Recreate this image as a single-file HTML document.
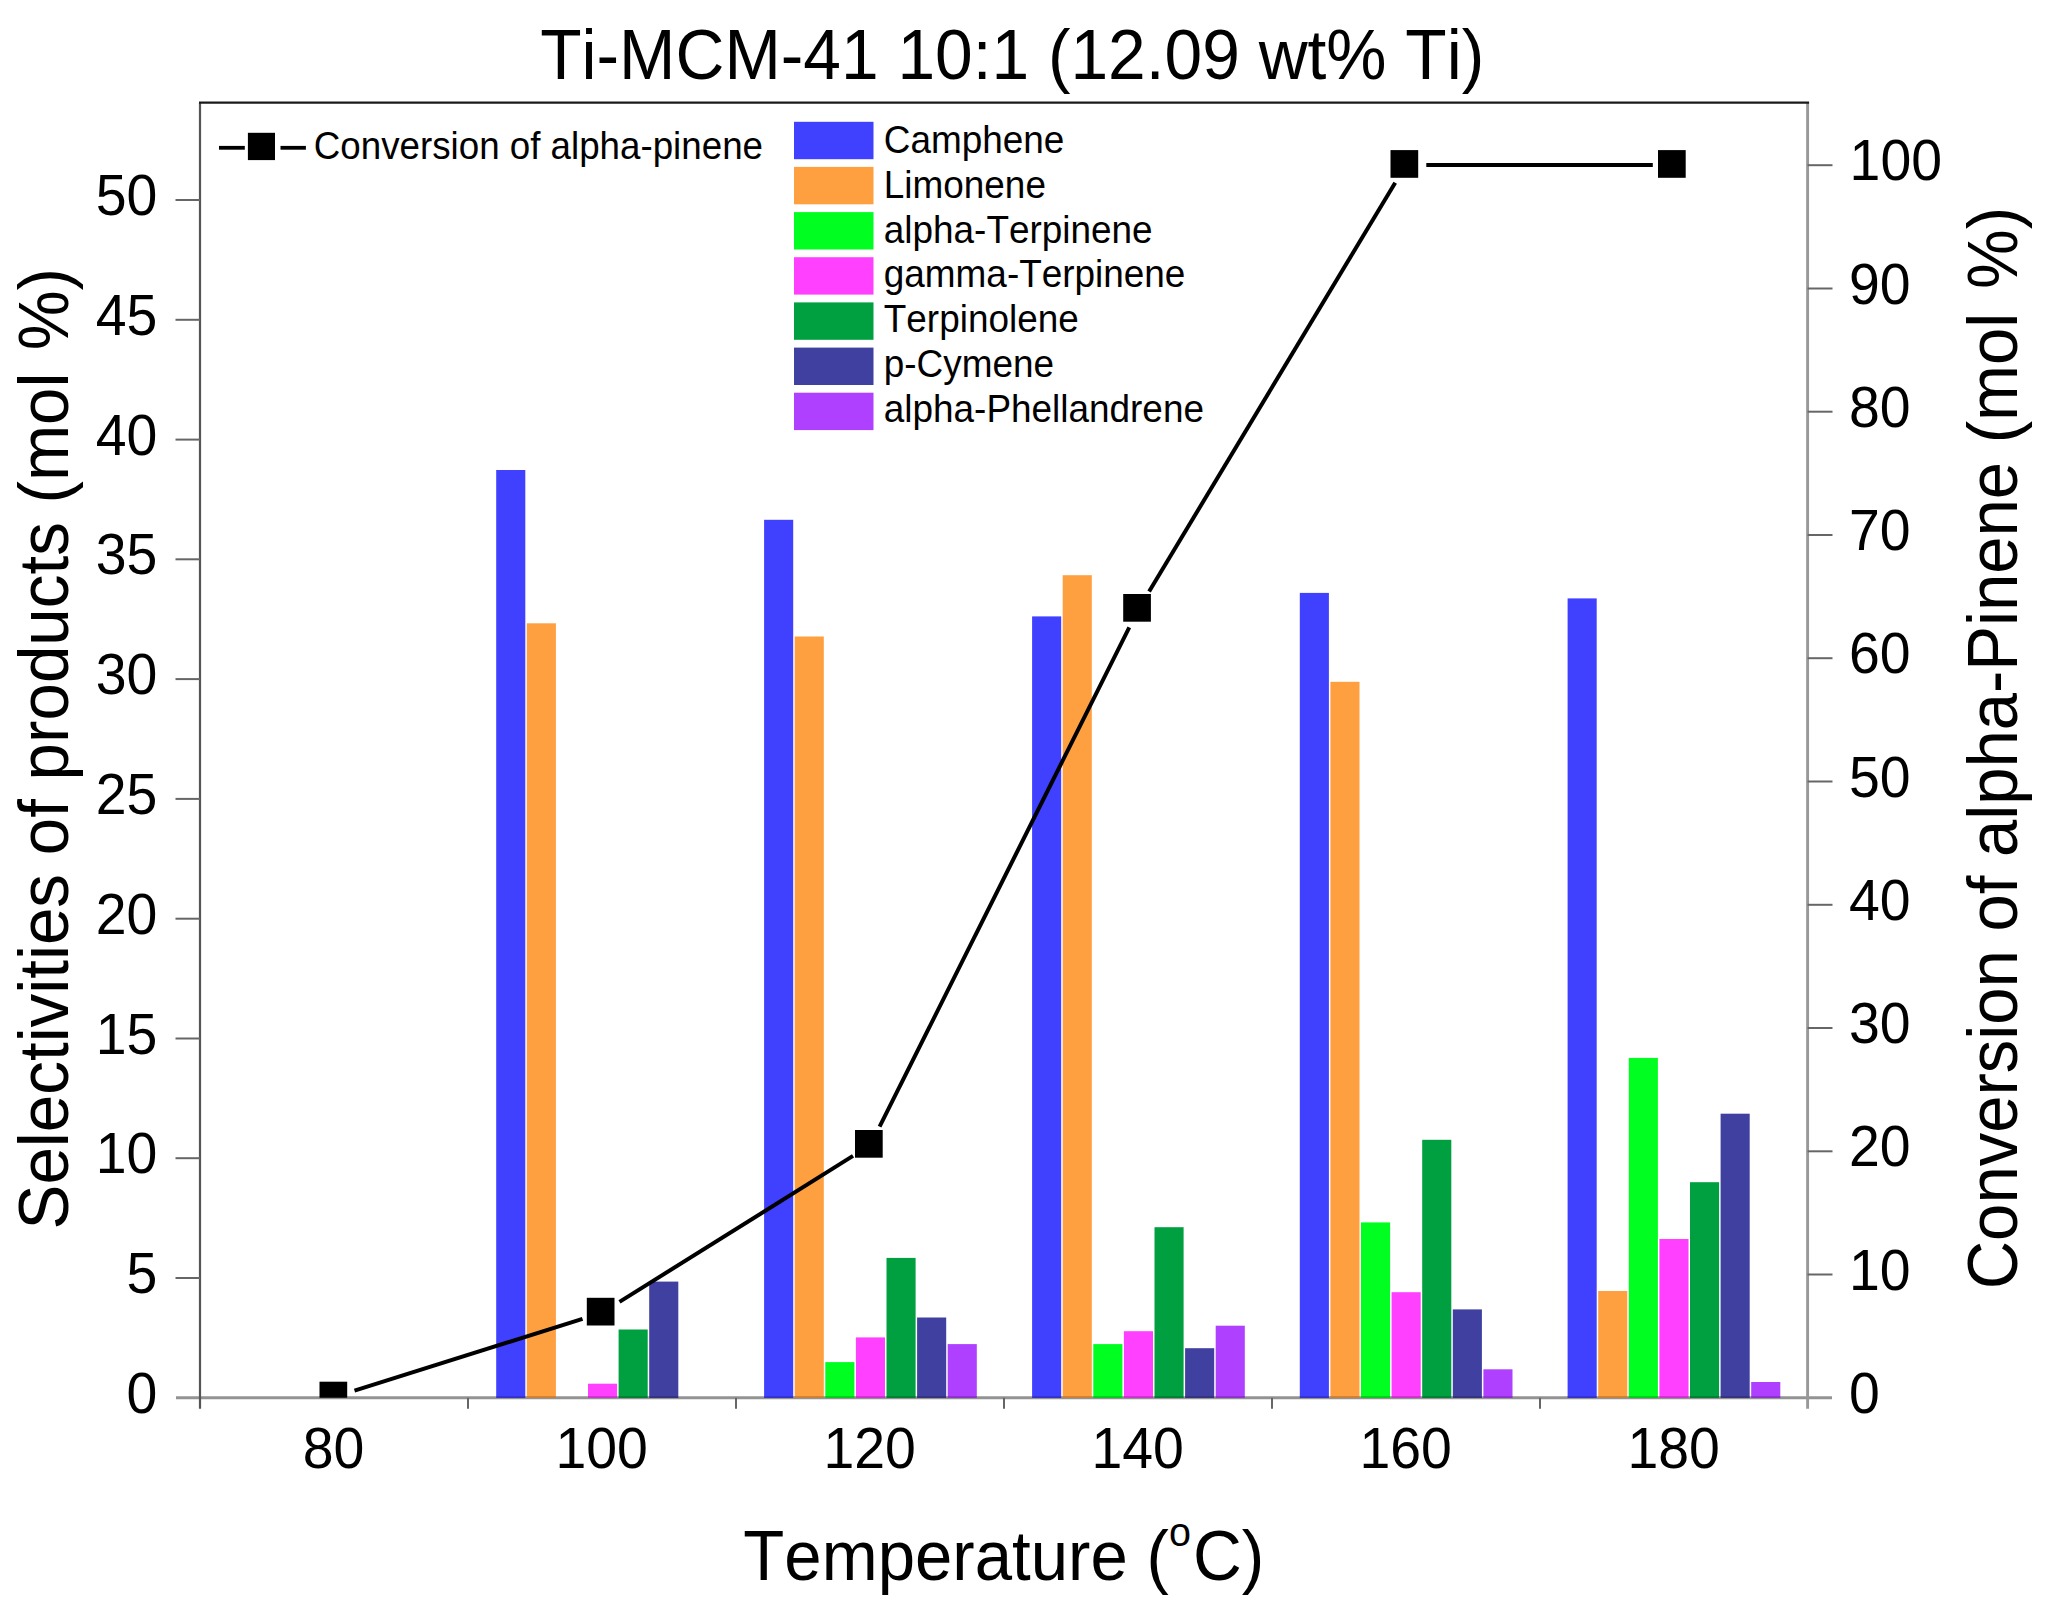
<!DOCTYPE html>
<html lang="en"><head><meta charset="utf-8"><title>Ti-MCM-41 10:1 (12.09 wt% Ti)</title>
<style>html,body{margin:0;padding:0;background:#fff}svg{display:block}text{font-family:"Liberation Sans",Arial,sans-serif;fill:#000;font-kerning:none;font-variant-ligatures:none}</style></head><body>
<svg width="2047" height="1611" viewBox="0 0 2047 1611">
<rect width="2047" height="1611" fill="#fff"/>
<line x1="176" y1="1397.8" x2="1832" y2="1397.8" stroke="#939393" stroke-width="3.1"/>
<line x1="1807.6" y1="102.7" x2="1807.6" y2="1408.8" stroke="#989898" stroke-width="2.9"/>
<line x1="200.0" y1="102.7" x2="200.0" y2="1408.8" stroke="#555" stroke-width="2.2"/>
<line x1="199.0" y1="102.7" x2="1809.1" y2="102.7" stroke="#1a1a1a" stroke-width="2.2"/>
<g stroke="#666" stroke-width="2">
<line x1="175.5" y1="1278.0" x2="200.0" y2="1278.0"/>
<line x1="175.5" y1="1158.2" x2="200.0" y2="1158.2"/>
<line x1="175.5" y1="1038.5" x2="200.0" y2="1038.5"/>
<line x1="175.5" y1="918.7" x2="200.0" y2="918.7"/>
<line x1="175.5" y1="798.9" x2="200.0" y2="798.9"/>
<line x1="175.5" y1="679.1" x2="200.0" y2="679.1"/>
<line x1="175.5" y1="559.3" x2="200.0" y2="559.3"/>
<line x1="175.5" y1="439.6" x2="200.0" y2="439.6"/>
<line x1="175.5" y1="319.8" x2="200.0" y2="319.8"/>
<line x1="175.5" y1="200.0" x2="200.0" y2="200.0"/>
<line x1="1807.6" y1="1274.5" x2="1832.5" y2="1274.5"/>
<line x1="1807.6" y1="1151.3" x2="1832.5" y2="1151.3"/>
<line x1="1807.6" y1="1028.0" x2="1832.5" y2="1028.0"/>
<line x1="1807.6" y1="904.8" x2="1832.5" y2="904.8"/>
<line x1="1807.6" y1="781.5" x2="1832.5" y2="781.5"/>
<line x1="1807.6" y1="658.2" x2="1832.5" y2="658.2"/>
<line x1="1807.6" y1="535.0" x2="1832.5" y2="535.0"/>
<line x1="1807.6" y1="411.7" x2="1832.5" y2="411.7"/>
<line x1="1807.6" y1="288.5" x2="1832.5" y2="288.5"/>
<line x1="1807.6" y1="165.2" x2="1832.5" y2="165.2"/>
<line x1="468.0" y1="1397.8" x2="468.0" y2="1408.8"/>
<line x1="736.0" y1="1397.8" x2="736.0" y2="1408.8"/>
<line x1="1004.0" y1="1397.8" x2="1004.0" y2="1408.8"/>
<line x1="1272.0" y1="1397.8" x2="1272.0" y2="1408.8"/>
<line x1="1540.0" y1="1397.8" x2="1540.0" y2="1408.8"/>
</g>
<rect x="496.2" y="470.0" width="29.1" height="928.0" fill="#4040FF"/>
<rect x="496.2" y="1396.1" width="29.1" height="1.9" fill="#000" fill-opacity="0.2"/>
<rect x="526.8" y="623.3" width="29.1" height="774.7" fill="#FFA040"/>
<rect x="526.8" y="1396.1" width="29.1" height="1.9" fill="#000" fill-opacity="0.2"/>
<rect x="588.0" y="1383.7" width="29.1" height="14.3" fill="#FF40FF"/>
<rect x="588.0" y="1396.1" width="29.1" height="1.9" fill="#000" fill-opacity="0.2"/>
<rect x="618.6" y="1329.5" width="29.1" height="68.5" fill="#00A040"/>
<rect x="618.6" y="1396.1" width="29.1" height="1.9" fill="#000" fill-opacity="0.2"/>
<rect x="649.2" y="1281.6" width="29.1" height="116.4" fill="#4040A0"/>
<rect x="649.2" y="1396.1" width="29.1" height="1.9" fill="#000" fill-opacity="0.2"/>
<rect x="764.1" y="519.8" width="29.1" height="878.2" fill="#4040FF"/>
<rect x="764.1" y="1396.1" width="29.1" height="1.9" fill="#000" fill-opacity="0.2"/>
<rect x="794.7" y="636.5" width="29.1" height="761.5" fill="#FFA040"/>
<rect x="794.7" y="1396.1" width="29.1" height="1.9" fill="#000" fill-opacity="0.2"/>
<rect x="825.3" y="1362.1" width="29.1" height="35.9" fill="#00FF20"/>
<rect x="825.3" y="1396.1" width="29.1" height="1.9" fill="#000" fill-opacity="0.2"/>
<rect x="855.9" y="1337.4" width="29.1" height="60.6" fill="#FF40FF"/>
<rect x="855.9" y="1396.1" width="29.1" height="1.9" fill="#000" fill-opacity="0.2"/>
<rect x="886.5" y="1257.9" width="29.1" height="140.1" fill="#00A040"/>
<rect x="886.5" y="1396.1" width="29.1" height="1.9" fill="#000" fill-opacity="0.2"/>
<rect x="917.1" y="1317.5" width="29.1" height="80.5" fill="#4040A0"/>
<rect x="917.1" y="1396.1" width="29.1" height="1.9" fill="#000" fill-opacity="0.2"/>
<rect x="947.7" y="1344.1" width="29.1" height="53.9" fill="#B040FF"/>
<rect x="947.7" y="1396.1" width="29.1" height="1.9" fill="#000" fill-opacity="0.2"/>
<rect x="1032.1" y="616.4" width="29.1" height="781.6" fill="#4040FF"/>
<rect x="1032.1" y="1396.1" width="29.1" height="1.9" fill="#000" fill-opacity="0.2"/>
<rect x="1062.7" y="575.2" width="29.1" height="822.8" fill="#FFA040"/>
<rect x="1062.7" y="1396.1" width="29.1" height="1.9" fill="#000" fill-opacity="0.2"/>
<rect x="1093.3" y="1344.1" width="29.1" height="53.9" fill="#00FF20"/>
<rect x="1093.3" y="1396.1" width="29.1" height="1.9" fill="#000" fill-opacity="0.2"/>
<rect x="1123.9" y="1331.2" width="29.1" height="66.8" fill="#FF40FF"/>
<rect x="1123.9" y="1396.1" width="29.1" height="1.9" fill="#000" fill-opacity="0.2"/>
<rect x="1154.5" y="1227.2" width="29.1" height="170.8" fill="#00A040"/>
<rect x="1154.5" y="1396.1" width="29.1" height="1.9" fill="#000" fill-opacity="0.2"/>
<rect x="1185.1" y="1348.2" width="29.1" height="49.8" fill="#4040A0"/>
<rect x="1185.1" y="1396.1" width="29.1" height="1.9" fill="#000" fill-opacity="0.2"/>
<rect x="1215.7" y="1325.7" width="29.1" height="72.3" fill="#B040FF"/>
<rect x="1215.7" y="1396.1" width="29.1" height="1.9" fill="#000" fill-opacity="0.2"/>
<rect x="1299.8" y="592.9" width="29.1" height="805.1" fill="#4040FF"/>
<rect x="1299.8" y="1396.1" width="29.1" height="1.9" fill="#000" fill-opacity="0.2"/>
<rect x="1330.4" y="681.8" width="29.1" height="716.2" fill="#FFA040"/>
<rect x="1330.4" y="1396.1" width="29.1" height="1.9" fill="#000" fill-opacity="0.2"/>
<rect x="1361.0" y="1222.4" width="29.1" height="175.6" fill="#00FF20"/>
<rect x="1361.0" y="1396.1" width="29.1" height="1.9" fill="#000" fill-opacity="0.2"/>
<rect x="1391.6" y="1292.2" width="29.1" height="105.8" fill="#FF40FF"/>
<rect x="1391.6" y="1396.1" width="29.1" height="1.9" fill="#000" fill-opacity="0.2"/>
<rect x="1422.2" y="1139.8" width="29.1" height="258.2" fill="#00A040"/>
<rect x="1422.2" y="1396.1" width="29.1" height="1.9" fill="#000" fill-opacity="0.2"/>
<rect x="1452.8" y="1309.4" width="29.1" height="88.6" fill="#4040A0"/>
<rect x="1452.8" y="1396.1" width="29.1" height="1.9" fill="#000" fill-opacity="0.2"/>
<rect x="1483.4" y="1369.3" width="29.1" height="28.7" fill="#B040FF"/>
<rect x="1483.4" y="1396.1" width="29.1" height="1.9" fill="#000" fill-opacity="0.2"/>
<rect x="1567.6" y="598.4" width="29.1" height="799.6" fill="#4040FF"/>
<rect x="1567.6" y="1396.1" width="29.1" height="1.9" fill="#000" fill-opacity="0.2"/>
<rect x="1598.2" y="1291.0" width="29.1" height="107.0" fill="#FFA040"/>
<rect x="1598.2" y="1396.1" width="29.1" height="1.9" fill="#000" fill-opacity="0.2"/>
<rect x="1628.8" y="1057.9" width="29.1" height="340.1" fill="#00FF20"/>
<rect x="1628.8" y="1396.1" width="29.1" height="1.9" fill="#000" fill-opacity="0.2"/>
<rect x="1659.4" y="1239.0" width="29.1" height="159.0" fill="#FF40FF"/>
<rect x="1659.4" y="1396.1" width="29.1" height="1.9" fill="#000" fill-opacity="0.2"/>
<rect x="1690.0" y="1182.2" width="29.1" height="215.8" fill="#00A040"/>
<rect x="1690.0" y="1396.1" width="29.1" height="1.9" fill="#000" fill-opacity="0.2"/>
<rect x="1720.6" y="1113.7" width="29.1" height="284.3" fill="#4040A0"/>
<rect x="1720.6" y="1396.1" width="29.1" height="1.9" fill="#000" fill-opacity="0.2"/>
<rect x="1751.2" y="1382.0" width="29.1" height="16.0" fill="#B040FF"/>
<rect x="1751.2" y="1396.1" width="29.1" height="1.9" fill="#000" fill-opacity="0.2"/>
<g stroke="#000" stroke-width="4" stroke-linecap="butt">
<line x1="354.5" y1="1390.6" x2="582.5" y2="1318.9"/>
<line x1="619.5" y1="1301.9" x2="853.0" y2="1155.9"/>
<line x1="879.6" y1="1126.7" x2="1129.3" y2="627.4"/>
<line x1="1149.1" y1="591.5" x2="1395.2" y2="182.7"/>
<line x1="1426.3" y1="165.1" x2="1652.8" y2="165.1"/>
</g>
<clipPath id="cp"><rect x="200.0" y="102.7" width="1607.6" height="1295.1"/></clipPath>
<g clip-path="url(#cp)" fill="#000">
<rect x="319.5" y="1381.7" width="27.7" height="27.7"/>
<rect x="586.8" y="1297.8" width="27.7" height="27.7"/>
<rect x="855.0" y="1130.0" width="27.7" height="27.7"/>
<rect x="1123.2" y="594.0" width="27.7" height="27.7"/>
<rect x="1390.5" y="150.1" width="27.7" height="27.7"/>
<rect x="1658.0" y="150.1" width="27.7" height="27.7"/>
</g>
<text transform="translate(540.2,79.4) scale(0.9562,1)" font-size="70.8" text-anchor="start">Ti-MCM-41 10:1 (12.09 wt% Ti)</text>
<text transform="translate(157.4,1412.8) scale(0.9615,1)" font-size="57.6" text-anchor="end">0</text>
<text transform="translate(157.4,1293.0) scale(0.9615,1)" font-size="57.6" text-anchor="end">5</text>
<text transform="translate(157.4,1173.2) scale(0.9615,1)" font-size="57.6" text-anchor="end">10</text>
<text transform="translate(157.4,1053.5) scale(0.9615,1)" font-size="57.6" text-anchor="end">15</text>
<text transform="translate(157.4,933.7) scale(0.9615,1)" font-size="57.6" text-anchor="end">20</text>
<text transform="translate(157.4,813.9) scale(0.9615,1)" font-size="57.6" text-anchor="end">25</text>
<text transform="translate(157.4,694.1) scale(0.9615,1)" font-size="57.6" text-anchor="end">30</text>
<text transform="translate(157.4,574.3) scale(0.9615,1)" font-size="57.6" text-anchor="end">35</text>
<text transform="translate(157.4,454.6) scale(0.9615,1)" font-size="57.6" text-anchor="end">40</text>
<text transform="translate(157.4,334.8) scale(0.9615,1)" font-size="57.6" text-anchor="end">45</text>
<text transform="translate(157.4,215.0) scale(0.9615,1)" font-size="57.6" text-anchor="end">50</text>
<text transform="translate(1849.0,1412.8) scale(0.9615,1)" font-size="57.6" text-anchor="start">0</text>
<text transform="translate(1849.0,1289.5) scale(0.9615,1)" font-size="57.6" text-anchor="start">10</text>
<text transform="translate(1849.0,1166.3) scale(0.9615,1)" font-size="57.6" text-anchor="start">20</text>
<text transform="translate(1849.0,1043.0) scale(0.9615,1)" font-size="57.6" text-anchor="start">30</text>
<text transform="translate(1849.0,919.8) scale(0.9615,1)" font-size="57.6" text-anchor="start">40</text>
<text transform="translate(1849.0,796.5) scale(0.9615,1)" font-size="57.6" text-anchor="start">50</text>
<text transform="translate(1849.0,673.2) scale(0.9615,1)" font-size="57.6" text-anchor="start">60</text>
<text transform="translate(1849.0,550.0) scale(0.9615,1)" font-size="57.6" text-anchor="start">70</text>
<text transform="translate(1849.0,426.7) scale(0.9615,1)" font-size="57.6" text-anchor="start">80</text>
<text transform="translate(1849.0,303.5) scale(0.9615,1)" font-size="57.6" text-anchor="start">90</text>
<text transform="translate(1849.6,180.2) scale(0.9615,1)" font-size="57.6" text-anchor="start">100</text>
<text transform="translate(333.6,1467.5) scale(0.9615,1)" font-size="57.6" text-anchor="middle">80</text>
<text transform="translate(601.6,1467.5) scale(0.9615,1)" font-size="57.6" text-anchor="middle">100</text>
<text transform="translate(869.6,1467.5) scale(0.9615,1)" font-size="57.6" text-anchor="middle">120</text>
<text transform="translate(1137.6,1467.5) scale(0.9615,1)" font-size="57.6" text-anchor="middle">140</text>
<text transform="translate(1405.6,1467.5) scale(0.9615,1)" font-size="57.6" text-anchor="middle">160</text>
<text transform="translate(1673.6,1467.5) scale(0.9615,1)" font-size="57.6" text-anchor="middle">180</text>
<text transform="translate(68.0,1229.5) rotate(-90) scale(0.9580,1)" font-size="70.3" text-anchor="start">Selectivities of products (mol <tspan dx="3.7">%)</tspan></text>
<text transform="translate(2016.5,1289.3) rotate(-90) scale(0.9567,1)" font-size="70.1" text-anchor="start">Conversion of alpha-Pinene (mol <tspan dx="5.6">%)</tspan></text>
<text transform="translate(743.3,1579.6) scale(0.9556,1)" font-size="70.3" text-anchor="start">Temperature (</text>
<text transform="translate(1169.0,1546.0) scale(0.9615,1)" font-size="41.1" text-anchor="start">o</text>
<text transform="translate(1192.9,1579.6) scale(0.9615,1)" font-size="70.3" text-anchor="start">C)</text>
<g stroke="#000" stroke-width="3.8"><line x1="219" y1="147.8" x2="244.8" y2="147.8"/><line x1="280.5" y1="147.8" x2="305.9" y2="147.8"/></g>
<rect x="247.9" y="132.8" width="27.1" height="27.3" fill="#000"/>
<text transform="translate(313.8,158.5) scale(0.9615,1)" font-size="38.2" text-anchor="start">Conversion of alpha-pinene</text>
<rect x="794" y="121.8" width="79.5" height="37.4" fill="#4040FF"/>
<text transform="translate(883.8,152.7) scale(0.9615,1)" font-size="38.4" text-anchor="start">Camphene</text>
<rect x="794" y="166.9" width="79.5" height="37.4" fill="#FFA040"/>
<text transform="translate(883.8,197.6) scale(0.9615,1)" font-size="38.4" text-anchor="start">Limonene</text>
<rect x="794" y="212.1" width="79.5" height="37.4" fill="#00FF20"/>
<text transform="translate(883.8,242.5) scale(0.9615,1)" font-size="38.4" text-anchor="start">alpha-Terpinene</text>
<rect x="794" y="257.2" width="79.5" height="37.4" fill="#FF40FF"/>
<text transform="translate(883.8,287.4) scale(0.9615,1)" font-size="38.4" text-anchor="start">gamma-Terpinene</text>
<rect x="794" y="302.4" width="79.5" height="37.4" fill="#00A040"/>
<text transform="translate(883.8,332.3) scale(0.9615,1)" font-size="38.4" text-anchor="start">Terpinolene</text>
<rect x="794" y="347.6" width="79.5" height="37.4" fill="#4040A0"/>
<text transform="translate(883.8,377.2) scale(0.9615,1)" font-size="38.4" text-anchor="start">p-Cymene</text>
<rect x="794" y="392.7" width="79.5" height="37.4" fill="#B040FF"/>
<text transform="translate(883.8,422.1) scale(0.9615,1)" font-size="38.4" text-anchor="start">alpha-Phellandrene</text>
</svg></body></html>
